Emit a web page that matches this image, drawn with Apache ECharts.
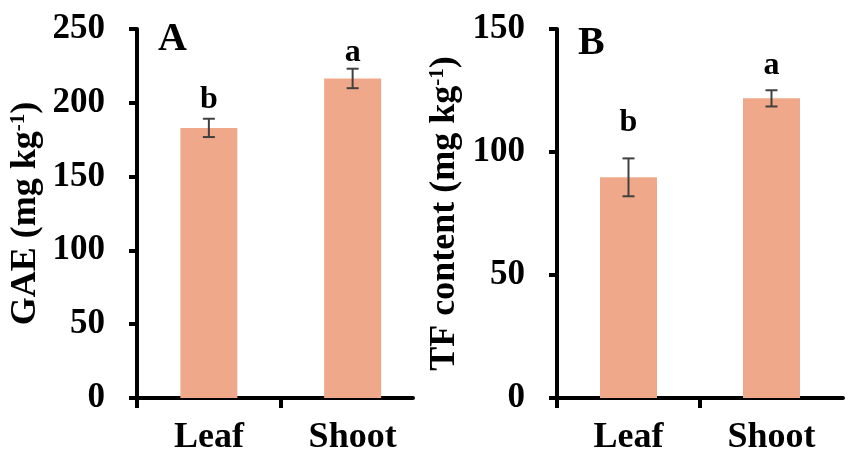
<!DOCTYPE html>
<html><head><meta charset="utf-8">
<script src="https://cdn.jsdelivr.net/npm/echarts@6/dist/echarts.min.js"></script>
<style>html,body{margin:0;padding:0;background:#fff}#c{width:851px;height:462px}</style>
</head><body><div id="c"></div>
<script>
const categories = ['Leaf', 'Shoot'];
const gaeValues = [183, 216.5];
const gaeErrors = [6.2, 6.6];
const gaeLetters = ['b', 'a'];
const gaeLetterPos = [202, 234];
const tfValues = [89.7, 121.8];
const tfErrors = [7.7, 3.3];
const tfLetters = ['b', 'a'];
const tfLetterPos = [112, 135];
const gaeTicks = [0, 50, 100, 150, 200, 250];
const tfTicks = [0, 50, 100, 150];

const FONT = '"Liberation Serif", "Times New Roman", serif';
const BAR = '#F0A88A';

function yAxisCfg(idx, ticks, name, gap) {
  return {
    type: 'value', gridIndex: idx, min: ticks[0], max: ticks[ticks.length - 1],
    interval: ticks[1] - ticks[0],
    name: name, nameLocation: 'middle', nameGap: gap, nameRotate: 90,
    nameTextStyle: {
      rich: {
        n: { fontSize: 36, fontWeight: 'bold', fontFamily: FONT, color: '#000' },
        s: { fontSize: 21, fontWeight: 'bold', fontFamily: FONT, color: '#000', verticalAlign: 'top', padding: [0, 0, 14, 0] }
      }
    },
    axisLine: { show: true, lineStyle: { color: '#000', width: 4 } },
    axisTick: { show: true, inside: false, length: 8, lineStyle: { color: '#000', width: 4 } },
    splitLine: { show: false },
    axisLabel: { fontSize: 35, fontWeight: 'bold', fontFamily: FONT, color: '#000', margin: 32 }
  };
}
// category positions on a value axis: category i is centred at i + 0.5
function xAxisCfg(idx, xMax) {
  return {
    type: 'value', gridIndex: idx, position: 'bottom',
    min: 0, max: xMax,
    axisLine: { show: true, lineStyle: { color: '#000', width: 4 } },
    splitLine: { show: false },
    axisTick: { show: true, length: 10, customValues: categories.map((c, i) => i), lineStyle: { color: '#000', width: 4 } },
    axisLabel: {
      show: true, customValues: categories.map((c, i) => i + 0.5),
      formatter: v => categories[Math.floor(v)] || '',
      fontSize: 36, fontWeight: 'bold', fontFamily: FONT, color: '#000', margin: 22
    }
  };
}
function barSeries(idx, vals) {
  return {
    type: 'bar', xAxisIndex: idx, yAxisIndex: idx,
    data: vals.map((v, i) => [i + 0.5, v]),
    barWidth: 57, itemStyle: { color: BAR }
  };
}
function errSeries(idx, vals, errs, letters, letterPos) {
  return {
    type: 'custom', xAxisIndex: idx, yAxisIndex: idx,
    data: vals.map((v, i) => [i + 0.5, v, errs[i], letterPos[i]]),
    renderItem: function (params, api) {
      const x = api.value(0), v = api.value(1), e = api.value(2), lp = api.value(3);
      const top = api.coord([x, v + e]);
      const bot = api.coord([x, v - e]);
      const lpt = api.coord([x, lp]);
      const hw = 6;
      const st = { stroke: '#404040', lineWidth: 2 };
      return {
        type: 'group',
        children: [
          { type: 'line', shape: { x1: top[0], y1: top[1], x2: bot[0], y2: bot[1] }, style: st },
          { type: 'line', shape: { x1: top[0] - hw, y1: top[1], x2: top[0] + hw, y2: top[1] }, style: st },
          { type: 'line', shape: { x1: bot[0] - hw, y1: bot[1], x2: bot[0] + hw, y2: bot[1] }, style: st },
          { type: 'text', x: lpt[0], y: lpt[1], style: { text: letters[params.dataIndex], fill: '#000', font: 'bold 32px ' + FONT, align: 'center', verticalAlign: 'middle' } }
        ]
      };
    },
    z: 5
  };
}

const chart = echarts.init(document.getElementById('c'), null, { renderer: 'canvas' });
chart.setOption({
  animation: false,
  backgroundColor: '#fff',
  grid: [
    { left: 137, top: 29, width: 276, height: 369 },
    { left: 557, top: 29, width: 286, height: 369 }
  ],
  xAxis: [xAxisCfg(0, 1.92), xAxisCfg(1, 2)],
  yAxis: [
    yAxisCfg(0, gaeTicks, '{n|GAE (mg kg}{s|-1}{n|)}', 93),
    yAxisCfg(1, tfTicks, '{n|TF content (mg kg}{s|-1}{n|)}', 94)
  ],
  graphic: [
    { type: 'text', left: 158, top: 20, style: { text: 'A', font: 'bold 40px ' + FONT, fill: '#000' } },
    { type: 'text', left: 578, top: 24, style: { text: 'B', font: 'bold 40px ' + FONT, fill: '#000' } }
  ],
  series: [
    barSeries(0, gaeValues),
    barSeries(1, tfValues),
    errSeries(0, gaeValues, gaeErrors, gaeLetters, gaeLetterPos),
    errSeries(1, tfValues, tfErrors, tfLetters, tfLetterPos)
  ]
});
</script></body></html>
